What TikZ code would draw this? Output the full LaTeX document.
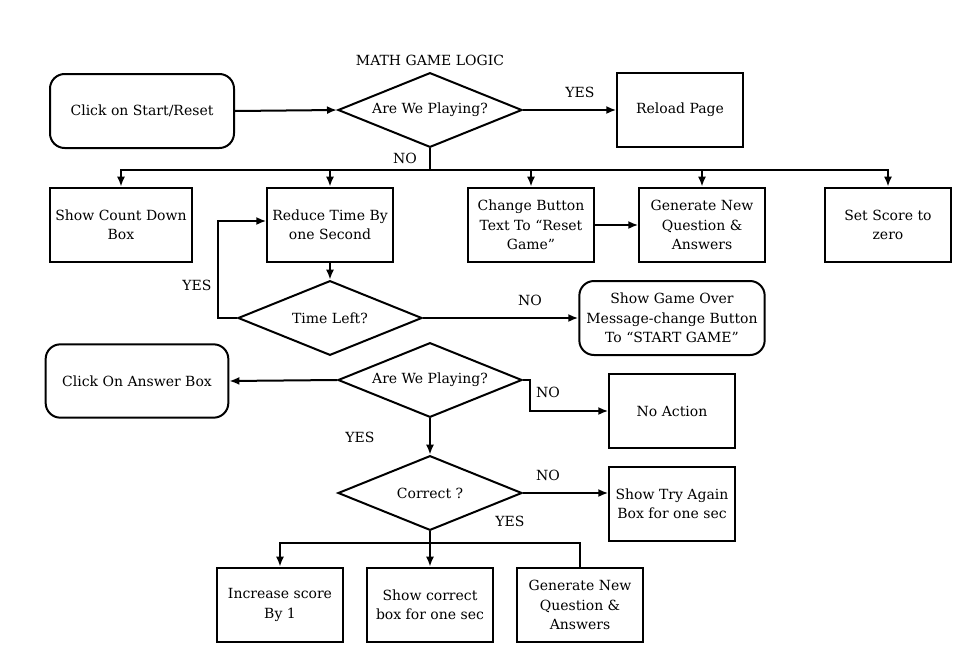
\documentclass[tikz,border=0pt]{standalone}
\usepackage{fontspec}
\setmainfont{DejaVu Serif}
\usetikzlibrary{shapes.geometric,arrows.meta,positioning}
\tikzset{
  every node/.style={font=\fontsize{10.5}{14.5}\selectfont, align=center},
  rbox/.style={draw, line width=1.5pt, minimum width=94pt, minimum height=56pt, inner sep=1pt},
  roundbox/.style={rbox, rounded corners=11pt},
  dec/.style={draw, line width=1.5pt, shape=diamond, aspect=2.45, minimum width=138pt, minimum height=56pt, inner sep=0pt},
  conn/.style={line width=1.5pt},
  arr/.style={conn, -{Latex[length=7.5pt,width=6pt]}},
  lbl/.style={font=\fontsize{10.5}{12}\selectfont},
}
\begin{document}
\begin{tikzpicture}[x=0.75pt,y=-0.75pt]
\useasboundingbox (0,0) rectangle (975,664);
\node[lbl] (title) at (430,60) {MATH GAME LOGIC};
\node[roundbox, minimum width=138pt, minimum height=55.5pt] (start) at (142,111) {Click on Start/Reset};
\node[dec] (d1) at (430,110) {Are We Playing?};
\node[rbox] (reload) at (680,110) {Reload Page};
\node[rbox, minimum width=107pt] (countdown) at (121,225) {Show Count Down\\Box};
\node[rbox] (reduce) at (330,225) {Reduce Time By\\one Second};
\node[rbox] (change) at (531,225) {Change Button\\Text To “Reset\\Game”};
\node[rbox] (gen1) at (702,225) {Generate New\\Question \&\\Answers};
\node[rbox] (score) at (888,225) {Set Score to\\zero};
\node[dec] (tl) at (330,318) {Time Left?};
\node[roundbox, minimum width=139pt, minimum height=55.5pt] (gameover) at (672,318) {Show Game Over\\Message-change Button\\To “START GAME”};
\node[dec] (d2) at (430,380) {Are We Playing?};
\node[roundbox, minimum width=137pt, minimum height=55pt] (answer) at (137,381) {Click On Answer Box};
\node[rbox] (noaction) at (672,411) {No Action};
\node[dec] (correct) at (430,493) {Correct ?};
\node[rbox] (tryagain) at (672,504) {Show Try Again\\Box for one sec};
\node[rbox] (inc) at (280,605) {Increase score\\By 1};
\node[rbox] (showc) at (430,605) {Show correct\\box for one sec};
\node[rbox] (gen2) at (580,605) {Generate New\\Question \&\\Answers};
% labels
\node[lbl] (y1) at (580,92) {YES};
\node[lbl] (n1) at (405,158) {NO};
\node[lbl] (y2) at (197,285) {YES};
\node[lbl] (n2) at (530,300) {NO};
\node[lbl] (n3) at (548,392) {NO};
\node[lbl] (y3) at (360,437) {YES};
\node[lbl] (n4) at (548,475) {NO};
\node[lbl] (y4) at (510,521) {YES};
% coordinates
\coordinate (br1) at (430,170);
\coordinate (loopx) at (218,318);
\coordinate (d2r) at (530,380);
\coordinate (br2) at (430,543);
% connectors
\draw[arr] (start.east) -- (d1.west);
\draw[arr] (d1.east) -- (reload.west);
\draw[conn] (d1.south) -- (br1);
\draw[arr] (br1) -| (countdown.north);
\draw[arr] (br1) -| (reduce.north);
\draw[arr] (br1) -| (change.north);
\draw[arr] (br1) -| (gen1.north);
\draw[arr] (br1) -| (score.north);
\draw[arr] (change.east) -- (gen1.west);
\draw[arr] (reduce.south) -- (tl.north);
\draw[arr] (tl.west) -- (loopx) |- ([yshift=3pt]reduce.west);
\draw[arr] (tl.east) -- (gameover.west);
\draw[arr] (d2.west) -- (answer.east);
\draw[arr] (d2.east) -- (d2r) |- (noaction.west);
\draw[arr] (d2.south) -- (correct.north);
\draw[arr] (correct.east) -- (correct.east -| tryagain.west);
\draw[conn] (correct.south) -- (br2);
\draw[arr] (br2) -| (inc.north);
\draw[arr] (br2) -- (showc.north);
\draw[conn] (br2) -| (gen2.north);
\end{tikzpicture}
\end{document}
